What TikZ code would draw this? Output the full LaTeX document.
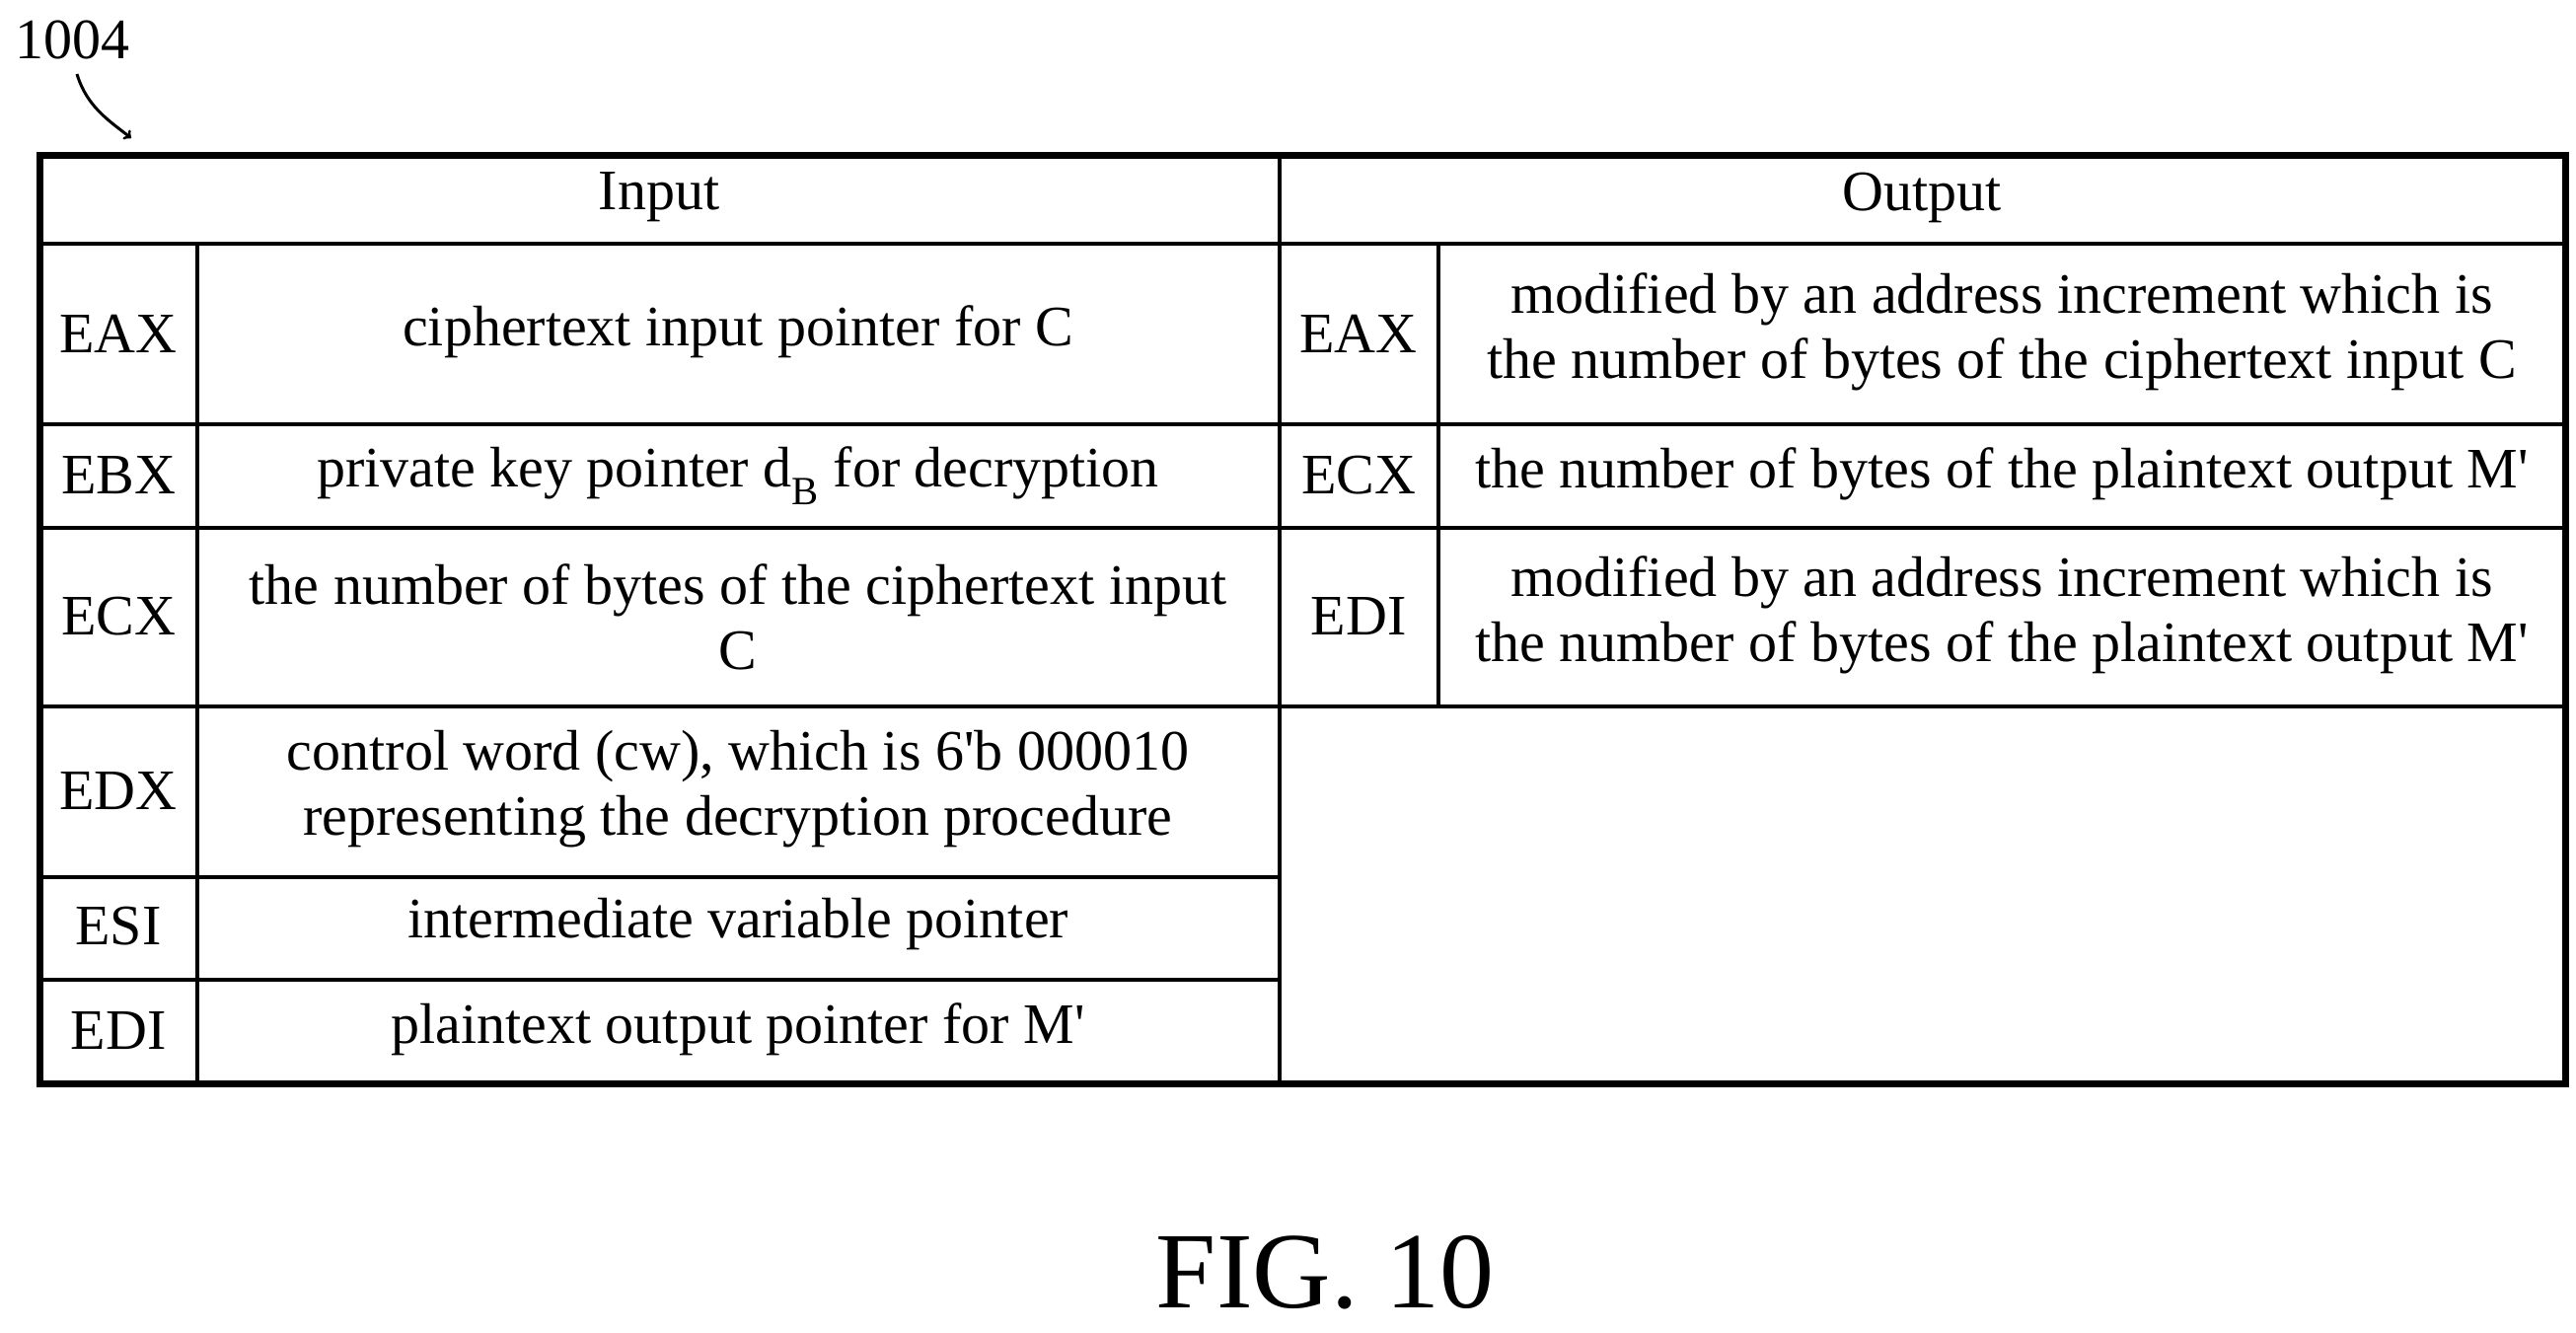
\documentclass[tikz,border=0pt]{standalone}
\usepackage{fontspec}
\setmainfont{Liberation Serif}
\usepackage{textcomp}
\begin{document}
\begin{tikzpicture}[x=1pt,y=-1pt,
  t/.style={font=\fontsize{58}{66}\selectfont,align=center,inner sep=0pt},
  inner/.style={line width=4.5pt},
  outer/.style={line width=7pt}]
\useasboundingbox (0,0) rectangle (2611,1351);
% grid
\draw[inner] (40,247) -- (2600,247);
\foreach \y in {430,535,716,889,993} \draw[inner] (40,\y) -- (1297,\y);
\foreach \y in {430,535,716} \draw[inner] (1297,\y) -- (2600,\y);
\draw[inner] (200,247) -- (200,1098);
\draw[inner] (1297,158) -- (1297,1098);
\draw[inner] (1458,247) -- (1458,716);
\draw[outer] (40,158) rectangle (2600,1098);
% texts
\node[t] (hin) at (668,200) {Input};
\node[t] (hout) at (1948,200) {Output};
\node[t] (l1) at (120,338) {EAX};
\node[t] (l2) at (120,482) {EBX};
\node[t] (l3) at (120,625) {ECX};
\node[t] (l4) at (120,802) {EDX};
\node[t] (l5) at (120,939) {ESI};
\node[t] (l6) at (120,1045) {EDI};
\node[t] (d1) at (748,336) {ciphertext input pointer for C};
\node[t] (d2) at (748,482) {private key pointer d\textsubscript{B} for decryption};
\node[t] (d3) at (748,625) {the number of bytes of the ciphertext input\\C};
\node[t] (d4) at (748,800) {control word (cw), which is 6\textquotesingle b 000010\\representing the decryption procedure};
\node[t] (d5) at (748,937) {intermediate variable pointer};
\node[t] (d6) at (748,1043) {plaintext output pointer for M\textquotesingle};
\node[t] (r1) at (1377,338) {EAX};
\node[t] (r2) at (1377,482) {ECX};
\node[t] (r3) at (1377,625) {EDI};
\node[t] (o1) at (2029,336) {modified by an address increment which is\\the number of bytes of the ciphertext input C};
\node[t] (o2) at (2029,480) {the number of bytes of the plaintext output M\textquotesingle};
\node[t] (o3) at (2029,623) {modified by an address increment which is\\the number of bytes of the plaintext output M\textquotesingle};
\node[t,anchor=west] (ref) at (15,40) {1004};
\coordinate (tip) at (133,140);
\draw[line width=3pt,->] (78,75) .. controls (88,108) and (110,122) .. (tip);
\node[font=\fontsize{110}{120}\selectfont,inner sep=0pt] (fig) at (1343,1290) {FIG. 10};
\end{tikzpicture}
\end{document}
